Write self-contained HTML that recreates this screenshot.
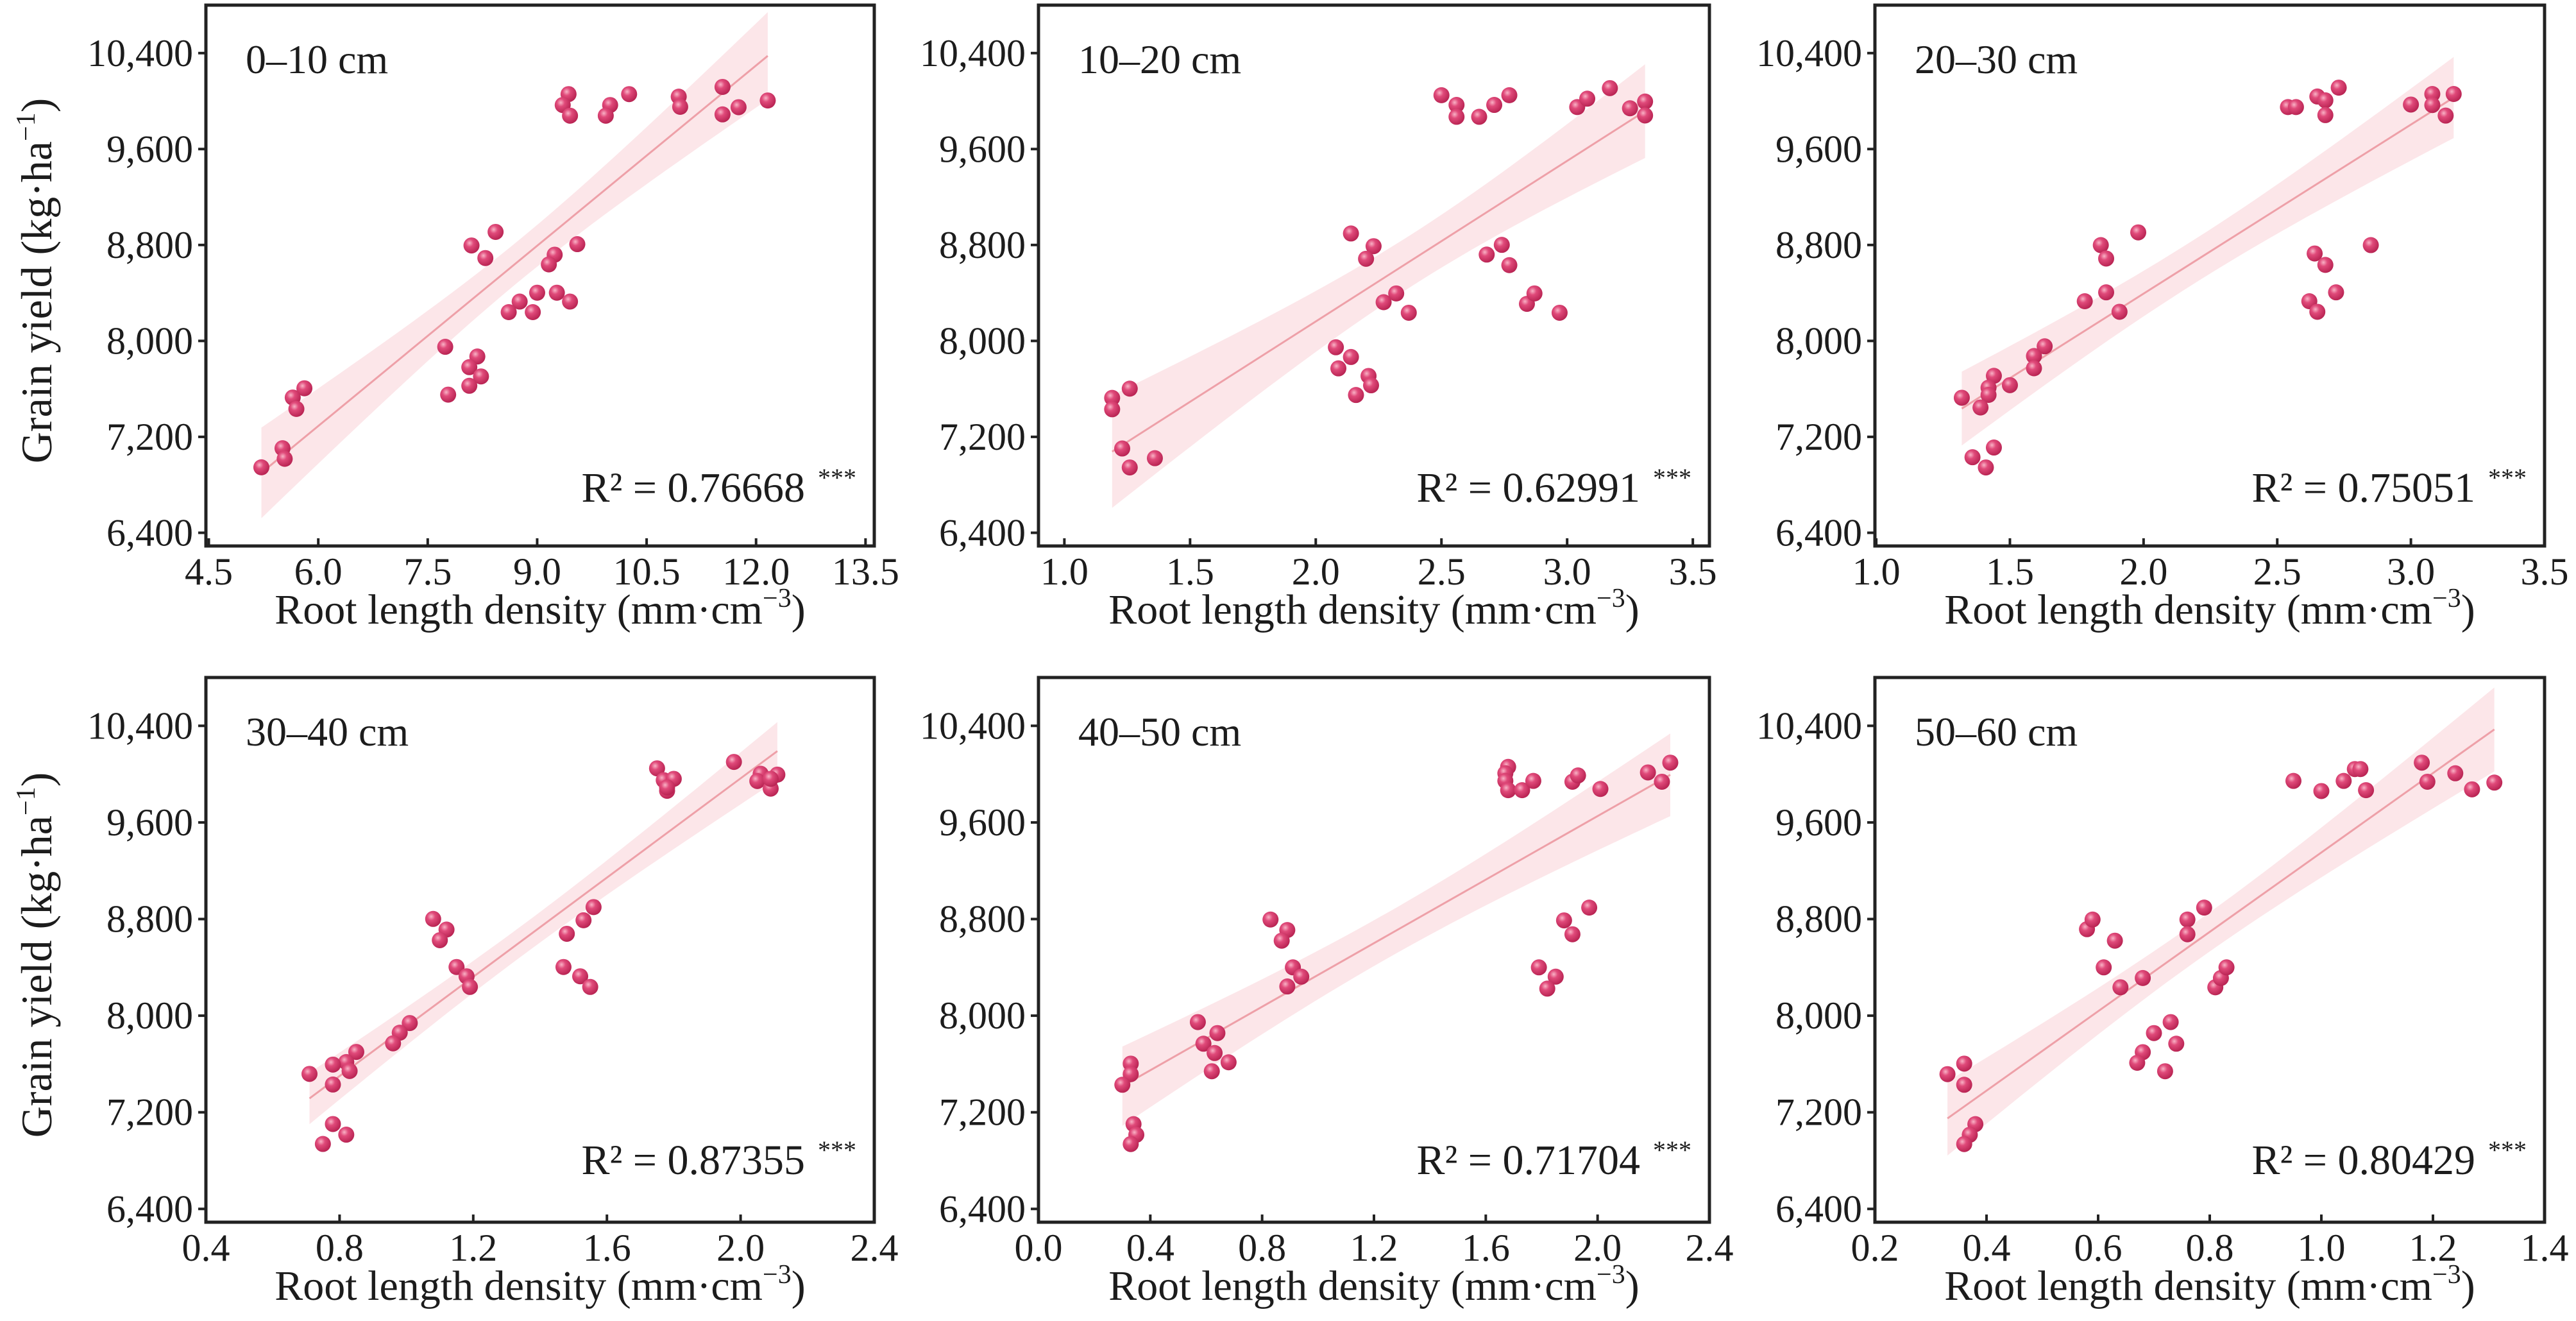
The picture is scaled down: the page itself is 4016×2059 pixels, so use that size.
<!DOCTYPE html>
<html><head><meta charset="utf-8"><style>
html,body{margin:0;padding:0;background:#fff;}
svg{display:block;}
text{font-family:"Liberation Serif",serif;fill:#1c1c1c;}
</style></head><body>
<svg id="chart" width="4016" height="2059" viewBox="0 0 4016 2059" xmlns="http://www.w3.org/2000/svg">
<defs>
<radialGradient id="ball" cx="0.38" cy="0.35" r="0.7">
<stop offset="0" stop-color="#f9b3c6"/><stop offset="0.35" stop-color="#e04a7a"/><stop offset="1" stop-color="#b5204f"/>
</radialGradient>
</defs>
</svg>
<script>
const yTicks = [6400, 7200, 8000, 8800, 9600, 10400];
const yTickLabels = ["6,400", "7,200", "8,000", "8,800", "9,600", "10,400"];
const xTicks1 = [4.5, 6.0, 7.5, 9.0, 10.5, 12.0, 13.5];
const xTicks2 = [1.0, 1.5, 2.0, 2.5, 3.0, 3.5];
const xTicks3 = [1.0, 1.5, 2.0, 2.5, 3.0, 3.5];
const xTicks4 = [0.4, 0.8, 1.2, 1.6, 2.0, 2.4];
const xTicks5 = [0.0, 0.4, 0.8, 1.2, 1.6, 2.0, 2.4];
const xTicks6 = [0.2, 0.4, 0.6, 0.8, 1.0, 1.2, 1.4];
const depthLabels = ["0–10 cm", "10–20 cm", "20–30 cm", "30–40 cm", "40–50 cm", "50–60 cm"];
const r2Values = ["0.76668", "0.62991", "0.75051", "0.87355", "0.71704", "0.80429"];

const xs1 = [9.43,9.35,9.45,10.0,9.94,10.26,10.94,10.96,11.54,11.54,11.76,12.16,8.43,8.10,8.29,9.55,9.24,9.16,9.00,9.27,8.76,9.45,8.61,8.94,7.74,8.18,8.07,8.23,8.07,7.78,5.81,5.65,5.70,5.22,5.51,5.54];
const ys1 = [10058,9967,9878,9967,9878,10058,10037,9952,10118,9889,9949,10005,8909,8796,8691,8807,8719,8638,8402,8402,8328,8328,8240,8240,7951,7870,7781,7704,7626,7552,7605,7528,7433,6946,7105,7017];
const xs2 = [2.50,2.56,2.56,2.65,2.71,2.77,3.04,3.08,3.17,3.25,3.31,3.31,2.14,2.23,2.20,2.68,2.74,2.77,2.27,2.32,2.37,2.84,2.87,2.97,2.08,2.14,2.09,2.21,2.22,2.16,1.19,1.19,1.26,1.23,1.26,1.36];
const ys2 = [10049,9968,9869,9869,9968,10049,9950,10020,10108,9940,9996,9880,8896,8790,8685,8720,8801,8632,8323,8396,8235,8309,8396,8235,7947,7866,7771,7708,7630,7549,7525,7430,7602,7103,6945,7022];
const xs3 = [2.54,2.57,2.65,2.68,2.68,2.73,3.00,3.08,3.08,3.13,3.16,1.98,1.84,1.86,2.64,2.68,2.85,1.78,1.86,1.91,2.62,2.72,2.65,1.63,1.59,1.59,1.44,1.50,1.42,1.42,1.32,1.39,1.36,1.41,1.44];
const ys3 = [9950,9950,10038,10006,9883,10112,9971,10059,9967,9879,10059,8905,8799,8687,8729,8634,8799,8331,8405,8243,8331,8405,8243,7955,7874,7772,7709,7631,7610,7550,7526,7445,7030,6945,7111];
const xs4 = [1.75,1.77,1.78,1.80,1.78,1.98,2.06,2.05,2.09,2.11,2.09,1.08,1.12,1.10,1.15,1.18,1.19,1.48,1.53,1.56,1.47,1.52,1.55,1.01,0.98,0.96,0.85,0.82,0.78,0.83,0.71,0.78,0.78,0.82,0.75];
const ys4 = [10048,9950,9862,9961,9890,10101,10003,9943,9880,9996,9961,8801,8713,8625,8403,8326,8238,8678,8790,8899,8403,8326,8238,7939,7859,7771,7700,7616,7595,7542,7518,7430,7103,7015,6938];
const xs5 = [1.68,1.67,1.67,1.68,1.73,1.77,1.91,1.93,2.01,2.18,2.23,2.26,0.83,0.89,0.87,0.91,0.94,0.89,1.79,1.85,1.82,1.88,1.91,1.97,0.57,0.59,0.64,0.63,0.62,0.68,0.33,0.33,0.30,0.34,0.35,0.33];
const ys5 = [10060,10007,9944,9867,9867,9944,9937,9989,9877,10014,9937,10095,8796,8709,8621,8400,8323,8242,8400,8323,8224,8789,8674,8895,7947,7768,7856,7691,7540,7614,7603,7516,7428,7102,7014,6937];
const xs6 = [0.95,1.00,1.04,1.06,1.07,1.08,1.18,1.19,1.24,1.27,1.31,0.58,0.59,0.63,0.61,0.64,0.68,0.76,0.76,0.79,0.81,0.82,0.83,0.73,0.70,0.74,0.68,0.67,0.72,0.33,0.36,0.36,0.38,0.37,0.36];
const ys6 = [9944,9860,9944,10042,10042,9867,10095,9937,10007,9874,9930,8716,8796,8621,8400,8235,8312,8796,8674,8895,8235,8312,8400,7947,7856,7768,7698,7610,7540,7516,7603,7428,7102,7014,6937];

const NS = "http://www.w3.org/2000/svg";
const svg = document.getElementById("chart");
function mk(tag, attrs, parent) {
  const e = document.createElementNS(NS, tag);
  for (const k in attrs) e.setAttribute(k, attrs[k]);
  (parent || svg).appendChild(e);
  return e;
}
const colX = [[321,1363],[1619,2665],[2923,3967]];
const rowY = [[8,851],[1056,1905]];
const yDom = [6290, 10800];
const panels = [
  {xs:xs1, ys:ys1, xt:xTicks1, dom:[4.46,13.62], c:0, r:0},
  {xs:xs2, ys:ys2, xt:xTicks2, dom:[0.897,3.566], c:1, r:0},
  {xs:xs3, ys:ys3, xt:xTicks3, dom:[0.995,3.5], c:2, r:0},
  {xs:xs4, ys:ys4, xt:xTicks4, dom:[0.4,2.4], c:0, r:1},
  {xs:xs5, ys:ys5, xt:xTicks5, dom:[0.0,2.4], c:1, r:1},
  {xs:xs6, ys:ys6, xt:xTicks6, dom:[0.2,1.4], c:2, r:1}
];
panels.forEach((p, i) => {
  const [L, R] = colX[p.c], [T, B] = rowY[p.r];
  const sx = v => L + (v - p.dom[0]) / (p.dom[1] - p.dom[0]) * (R - L);
  const sy = v => B - (v - yDom[0]) / (yDom[1] - yDom[0]) * (B - T);
  const g = mk("g", {});
  
  
  // regression
  const n = p.xs.length;
  const mx = p.xs.reduce((a,b)=>a+b,0)/n, my = p.ys.reduce((a,b)=>a+b,0)/n;
  let sxx=0, sxy=0;
  for (let k=0;k<n;k++){ sxx+=(p.xs[k]-mx)**2; sxy+=(p.xs[k]-mx)*(p.ys[k]-my); }
  const b = sxy/sxx, a = my - b*mx;
  let sse=0; for (let k=0;k<n;k++){ sse+=(p.ys[k]-a-b*p.xs[k])**2; }
  const s = Math.sqrt(sse/(n-2)), t = 2.03;
  const x0 = Math.min(...p.xs), x1 = Math.max(...p.xs);
  const up=[], lo=[];
  for (let k=0;k<=40;k++){
    const xv = x0 + (x1-x0)*k/40, yv = a+b*xv;
    const h = t*s*Math.sqrt(1/n + (xv-mx)**2/sxx);
    up.push(sx(xv).toFixed(1)+","+sy(yv+h).toFixed(1));
    lo.unshift(sx(xv).toFixed(1)+","+sy(yv-h).toFixed(1));
  }
  const band = mk("polygon", {points: up.concat(lo).join(" "), fill:"#fbd9dd", "fill-opacity":"0.65"}, g);
  
  
  const line = mk("line", {x1:sx(x0), y1:sy(a+b*x0), x2:sx(x1), y2:sy(a+b*x1), stroke:"#eea0a8", "stroke-width":3}, g);
  
  
  // points
  for (let k=0;k<n;k++){
    const c = mk("circle", {cx:sx(p.xs[k]), cy:sy(p.ys[k]), r:12.5, fill:"url(#ball)"}, g);
    
    
  }
  // frame
  const fr = mk("rect", {x:L, y:T, width:R-L, height:B-T, fill:"none", stroke:"#222", "stroke-width":5}, g);
  
  
  // y ticks
  yTicks.forEach((v, j) => {
    const y = sy(v);
    const tk = mk("line", {x1:L-12, y1:y, x2:L, y2:y, stroke:"#222", "stroke-width":4}, g);
    
    
    const tl = mk("text", {x:L-20, y:y+20, "text-anchor":"end", "font-size":60}, g);
    tl.textContent = yTickLabels[j];
    
    
  });
  // x ticks
  p.xt.forEach(v => {
    const x = sx(v);
    const tk = mk("line", {x1:x, y1:B, x2:x, y2:B-12, stroke:"#222", "stroke-width":4}, g);
    
    
    const tl = mk("text", {x:x, y:B+60, "text-anchor":"middle", "font-size":60}, g);
    tl.textContent = v.toFixed(1);
    
    
  });
  // depth label
  const dl = mk("text", {x:L+62, y:T+106, "font-size":64}, g);
  dl.textContent = depthLabels[i];
  
  
  // R2
  const rt = mk("text", {x:R-108, y:T+774, "text-anchor":"end", "font-size":66}, g);
  rt.textContent = "R² = " + r2Values[i];
  
  
  const st = mk("text", {x:R-88, y:T+750, "font-size":40}, g);
  st.textContent = "***";
  
  
  // x title
  const xt = mk("text", {x:(L+R)/2, y:B+121, "text-anchor":"middle", "font-size":66}, g);
  xt.innerHTML = 'Root length density (mm·cm<tspan dy="-26" font-size="42">−3</tspan><tspan dy="26">)</tspan>';
  
  
  // y title (first column only)
  if (p.c === 0) {
    const cy = (T+B)/2 + 8;
    const yt = mk("text", {x:0, y:0, "text-anchor":"middle", "font-size":68, transform:"translate(80," + cy + ") rotate(-90)"}, g);
    yt.innerHTML = 'Grain yield (kg·ha<tspan dy="-26" font-size="42">−1</tspan><tspan dy="26">)</tspan>';
    
    
  }
});
</script>
</body></html>
